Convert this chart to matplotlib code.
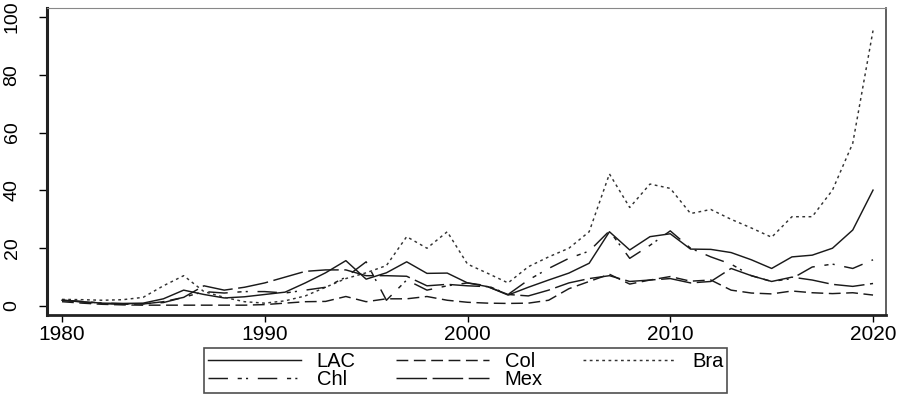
import numpy as np
import matplotlib
matplotlib.use("Agg")
import matplotlib.pyplot as plt

plt.rcParams['font.family'] = ['Liberation Sans', 'DejaVu Sans']
plt.rcParams['lines.scale_dashes'] = False

years = list(range(1980, 2021))

lac = [2.0, 1.5, 1.0, 0.9, 1.0, 2.5, 5.5, 4.0, 2.8, 3.2,
       4.0, 4.8, 8.0, 11.5, 15.7, 9.3, 11.5, 15.3, 11.3, 11.4,
       8.0, 6.7, 3.8, 6.5, 9.0, 11.4, 14.8, 25.7, 19.4, 24.0,
       25.0, 19.7, 19.6, 18.5, 16.0, 13.0, 17.0, 17.6, 20.0, 26.3,
       40.1]
col = [1.5, 1.0, 0.6, 0.4, 0.3, 0.3, 0.3, 0.3, 0.3, 0.3,
       0.5, 1.0, 1.5, 1.6, 3.3, 1.5, 2.5, 2.5, 3.3, 2.0,
       1.3, 1.0, 0.9, 1.0, 2.0, 6.0, 8.5, 11.0, 7.6, 9.0,
       10.2, 8.6, 9.0, 5.5, 4.5, 4.2, 5.2, 4.6, 4.3, 4.6,
       3.8]
bra = [2.3, 2.2, 2.0, 2.2, 3.0, 7.0, 10.5, 5.0, 3.0, 1.5,
       1.0, 1.8, 3.5, 6.5, 9.5, 11.5, 14.0, 24.0, 20.0, 25.7,
       14.5, 11.3, 8.0, 13.6, 17.0, 20.0, 25.7, 45.7, 34.1, 42.2,
       40.7, 32.0, 33.4, 30.0, 27.0, 23.8, 30.9, 30.9, 40.1, 56.3,
       95.3]
chl = [2.0, 1.6, 1.0, 0.8, 0.8, 1.2, 3.0, 5.0, 4.5, 5.0,
       5.0, 4.5, 5.5, 6.5, 10.0, 15.3, 2.0, 9.0, 5.5, 7.0,
       8.0, 7.0, 4.0, 9.0, 13.0, 16.5, 19.0, 26.0, 16.5, 21.0,
       26.0, 20.0, 17.0, 14.5, 10.5, 8.5, 9.5, 13.5, 14.5, 13.0,
       16.0]
mex = [2.0, 1.4, 0.8, 0.6, 0.7, 1.5, 3.0, 7.0, 5.5, 6.5,
       8.0, 10.0, 12.0, 12.5, 12.5, 10.5, 10.5, 10.3, 7.0, 7.5,
       7.0, 6.7, 4.0, 3.5, 5.5, 8.0, 9.5, 10.5, 8.5, 9.0,
       9.5, 8.0, 8.5, 13.0, 10.5, 8.5, 10.0, 9.0, 7.5, 6.8,
       7.8]

fig = plt.figure(figsize=(8.99, 3.96), dpi=100)
ax = fig.add_axes([47/899, 81/396, (886-47)/899, (315-8)/396])

lw = 1.05
ink = '#1a1a1a'
# mono line patterns, dash lengths in points
h_lac, = ax.plot(years, lac, color=ink, lw=lw, linestyle='-', label='LAC')
h_col, = ax.plot(years, col, color=ink, lw=lw, linestyle=(0, (8.5, 4)), label='Col')
h_bra, = ax.plot(years, bra, color='#333333', lw=lw, linestyle=(0, (2, 2.5)), label='Bra')
h_chl, = ax.plot(years, chl, color=ink, lw=lw, linestyle=(0, (14, 7, 3, 3, 1.5, 7)), label='Chl')
h_mex, = ax.plot(years, mex, color=ink, lw=lw, linestyle=(0, (22, 4)), label='Mex')

ax.set_xlim(1979.26, 2020.64)
ax.set_ylim(-3.1, 103.1)
ax.set_xticks([1980, 1990, 2000, 2010, 2020])
ax.set_yticks([0, 20, 40, 60, 80, 100])

ax.tick_params(axis='x', direction='out', length=5, width=1, pad=2, labelsize=15)
ax.tick_params(axis='y', direction='out', length=6, width=1, pad=13, labelsize=14)
for lab in ax.get_yticklabels():
    lab.set_rotation(90)
    lab.set_va('center')

ax.spines['left'].set_linewidth(2.2)
ax.spines['bottom'].set_linewidth(2.0)
ax.spines['left'].set_color('#222222')
ax.spines['bottom'].set_color('#222222')
ax.spines['top'].set_linewidth(0.8)
ax.spines['top'].set_color('#888888')
ax.spines['right'].set_linewidth(1.2)
ax.spines['right'].set_color('#444444')

# row-major order: LAC Col Bra / Chl Mex
handles = [h_lac, h_chl, h_col, h_mex, h_bra]
leg = fig.legend(handles=handles, labels=[h.get_label() for h in handles],
                 ncol=3, loc='upper center', bbox_to_anchor=(0.518, 1 - 348/396),
                 fontsize=14.5, handlelength=4.6, handletextpad=0.8,
                 columnspacing=2.0, labelspacing=-0.05, borderpad=0.2,
                 fancybox=False, frameon=True, borderaxespad=0)
leg.get_frame().set_edgecolor('#222222')
leg.get_frame().set_linewidth(1.2)

fig.savefig('out.png', dpi=100, facecolor='white')
